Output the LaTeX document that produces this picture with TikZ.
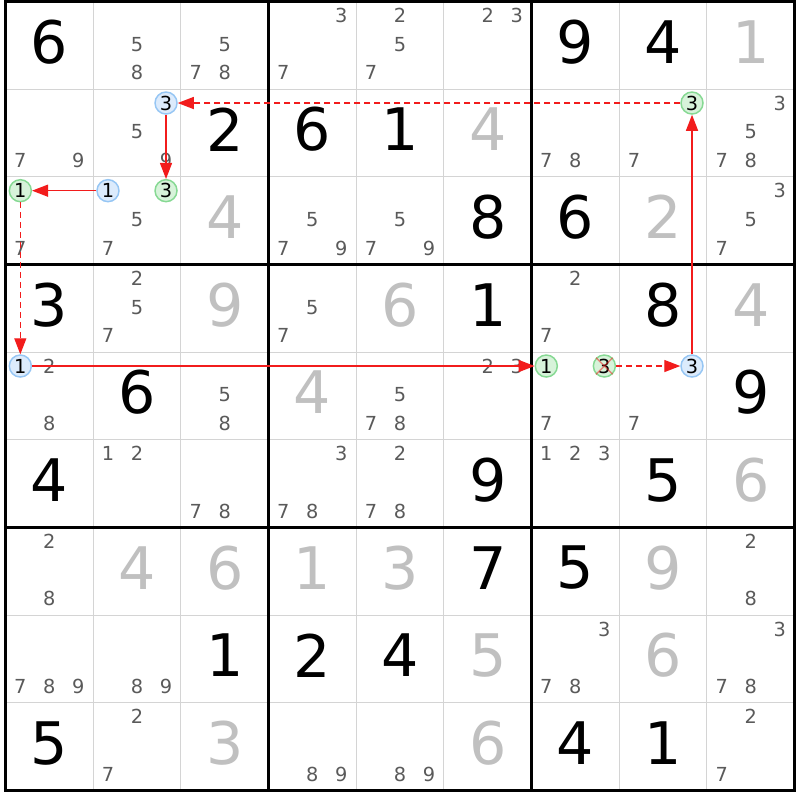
\documentclass[tikz,border=0pt]{standalone}
\usepackage{fontspec}
\setmainfont{DejaVu Sans}
\usetikzlibrary{arrows.meta}
\definecolor{candgray}{HTML}{5A5A5A}
\definecolor{solvedgray}{HTML}{C0C0C0}
\definecolor{thingray}{HTML}{D4D4D4}
\definecolor{bluefill}{HTML}{DCEBFC}
\definecolor{blueline}{HTML}{96C6F4}
\definecolor{greenfill}{HTML}{D7F3DA}
\definecolor{greenline}{HTML}{86D993}
\definecolor{chainred}{HTML}{F21C1C}
\tikzset{
  given/.style={inner sep=0pt,text=black,font=\fontsize{44pt}{44pt}\selectfont},
  solved/.style={inner sep=0pt,text=solvedgray,font=\fontsize{44pt}{44pt}\selectfont},
  cand/.style={inner sep=0pt,text=candgray,font=\fontsize{14.5pt}{14.5pt}\selectfont},
  onnode/.style={circle,inner sep=0pt,minimum size=16.5pt,line width=1.1pt,draw=blueline,fill=bluefill,text=black,font=\fontsize{14.5pt}{14.5pt}\selectfont},
  offnode/.style={circle,inner sep=0pt,minimum size=16.5pt,line width=1.1pt,draw=greenline,fill=greenfill,text=black,font=\fontsize{14.5pt}{14.5pt}\selectfont},
  chain/.style={draw=chainred,line width=1pt,-{Triangle[length=12pt,width=9pt]}},
  weak/.style={dash pattern=on 4.5pt off 3pt},
}
\newcommand\gv[3]{\node[given] (g#1#2) at (#2-0.5,#1-0.54) {#3};}
\newcommand\sv[3]{\node[solved] (g#1#2) at (#2-0.5,#1-0.54) {#3};}
\newcommand\candpos[3]{%
  \pgfmathsetmacro\cdx{#2-0.5+(mod(#3-1,3)-1)*0.331}%
  \pgfmathtruncatemacro\cdr{(#3-1)/3}%
  \pgfmathsetmacro\cdy{#1-0.5+(\cdr==0?-0.342:(\cdr==1?-0.0114:0.314))}}
\newcommand\cd[3]{\candpos{#1}{#2}{#3}\node[cand] (c#1#2#3) at (\cdx,\cdy) {#3};}
\newcommand\kon[3]{\candpos{#1}{#2}{#3}\node[onnode] (k#1#2#3) at (\cdx,\cdy) {#3};}
\newcommand\koff[3]{\candpos{#1}{#2}{#3}\node[offnode] (k#1#2#3) at (\cdx,\cdy) {#3};}
\begin{document}
\begin{tikzpicture}[x=65.75pt,y=-65.75pt]
\useasboundingbox (-0.06274,-0.01711) rectangle (9.0627,9.1084);
\fill[white] (-0.06274,-0.01711) rectangle (9.0627,9.1084);
% grid
\foreach \i in {1,2,4,5,7,8} {
  \draw[thingray,line width=0.8pt] (\i,0) -- (\i,9);
  \draw[thingray,line width=0.8pt] (0,\i) -- (9,\i);
}
\foreach \i in {0,3,6,9} {
  \draw[black,line width=2.25pt] (\i,-0.017) -- (\i,9.017);
  \draw[black,line width=2.25pt] (-0.017,\i) -- (9.017,\i);
}
% row 1
\gv{1}{1}{6} \cd{1}{2}{5} \cd{1}{2}{8} \cd{1}{3}{5} \cd{1}{3}{7} \cd{1}{3}{8}
\cd{1}{4}{3} \cd{1}{4}{7} \cd{1}{5}{2} \cd{1}{5}{5} \cd{1}{5}{7} \cd{1}{6}{2} \cd{1}{6}{3}
\gv{1}{7}{9} \gv{1}{8}{4} \sv{1}{9}{1}
% row 2
\cd{2}{1}{7} \cd{2}{1}{9} \kon{2}{2}{3} \cd{2}{2}{5} \cd{2}{2}{9} \gv{2}{3}{2}
\gv{2}{4}{6} \gv{2}{5}{1} \sv{2}{6}{4}
\cd{2}{7}{7} \cd{2}{7}{8} \koff{2}{8}{3} \cd{2}{8}{7}
\cd{2}{9}{3} \cd{2}{9}{5} \cd{2}{9}{7} \cd{2}{9}{8}
% row 3
\koff{3}{1}{1} \cd{3}{1}{7} \kon{3}{2}{1} \koff{3}{2}{3} \cd{3}{2}{5} \cd{3}{2}{7} \sv{3}{3}{4}
\cd{3}{4}{5} \cd{3}{4}{7} \cd{3}{4}{9} \cd{3}{5}{5} \cd{3}{5}{7} \cd{3}{5}{9} \gv{3}{6}{8}
\gv{3}{7}{6} \sv{3}{8}{2} \cd{3}{9}{3} \cd{3}{9}{5} \cd{3}{9}{7}
% row 4
\gv{4}{1}{3} \cd{4}{2}{2} \cd{4}{2}{5} \cd{4}{2}{7} \sv{4}{3}{9}
\cd{4}{4}{5} \cd{4}{4}{7} \sv{4}{5}{6} \gv{4}{6}{1}
\cd{4}{7}{2} \cd{4}{7}{7} \gv{4}{8}{8} \sv{4}{9}{4}
% row 5
\kon{5}{1}{1} \cd{5}{1}{2} \cd{5}{1}{8} \gv{5}{2}{6} \cd{5}{3}{5} \cd{5}{3}{8}
\sv{5}{4}{4} \cd{5}{5}{5} \cd{5}{5}{7} \cd{5}{5}{8} \cd{5}{6}{2} \cd{5}{6}{3}
\koff{5}{7}{1} \koff{5}{7}{3} \cd{5}{7}{7} \kon{5}{8}{3} \cd{5}{8}{7} \gv{5}{9}{9}
% row 6
\gv{6}{1}{4} \cd{6}{2}{1} \cd{6}{2}{2} \cd{6}{3}{7} \cd{6}{3}{8}
\cd{6}{4}{3} \cd{6}{4}{7} \cd{6}{4}{8} \cd{6}{5}{2} \cd{6}{5}{7} \cd{6}{5}{8} \gv{6}{6}{9}
\cd{6}{7}{1} \cd{6}{7}{2} \cd{6}{7}{3} \gv{6}{8}{5} \sv{6}{9}{6}
% row 7
\cd{7}{1}{2} \cd{7}{1}{8} \sv{7}{2}{4} \sv{7}{3}{6} \sv{7}{4}{1} \sv{7}{5}{3} \gv{7}{6}{7}
\gv{7}{7}{5} \sv{7}{8}{9} \cd{7}{9}{2} \cd{7}{9}{8}
% row 8
\cd{8}{1}{7} \cd{8}{1}{8} \cd{8}{1}{9} \cd{8}{2}{8} \cd{8}{2}{9} \gv{8}{3}{1}
\gv{8}{4}{2} \gv{8}{5}{4} \sv{8}{6}{5}
\cd{8}{7}{3} \cd{8}{7}{7} \cd{8}{7}{8} \sv{8}{8}{6} \cd{8}{9}{3} \cd{8}{9}{7} \cd{8}{9}{8}
% row 9
\gv{9}{1}{5} \cd{9}{2}{2} \cd{9}{2}{7} \sv{9}{3}{3}
\cd{9}{4}{8} \cd{9}{4}{9} \cd{9}{5}{8} \cd{9}{5}{9} \sv{9}{6}{6}
\gv{9}{7}{4} \gv{9}{8}{1} \cd{9}{9}{2} \cd{9}{9}{7}
% eliminated candidate
\draw[chainred,opacity=0.5,line width=1.1pt] (k573.135) -- (k573.-45) (k573.45) -- (k573.-135);
% chain
\draw[chain,weak] (k283) -- (k223);
\draw[chain] (k223) -- (k323);
\draw[chain] (k321) -- (k311);
\draw[chain,weak] (k311) -- (k511);
\draw[chain] (k511) -- (k571);
\draw[chain,weak] (k573) -- (k583);
\draw[chain] (k583) -- (k283);
\end{tikzpicture}
\end{document}
